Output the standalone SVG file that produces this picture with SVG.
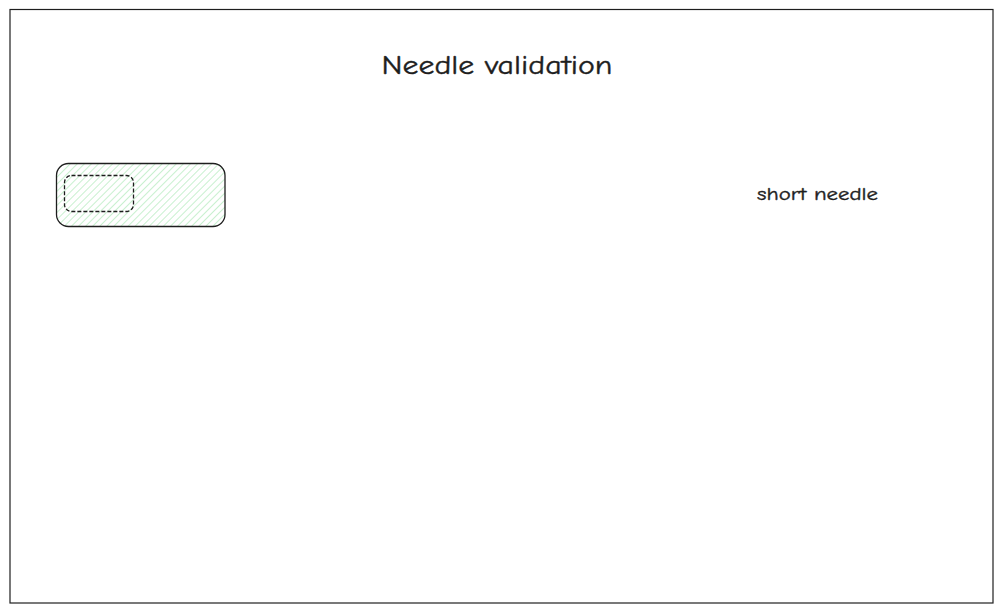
<svg xmlns="http://www.w3.org/2000/svg" width="1004" height="613" viewBox="0 0 1004 613">
<defs>
<pattern id="hatch" patternUnits="userSpaceOnUse" width="5" height="5" patternTransform="rotate(45)">
<line x1="0" y1="0" x2="0" y2="5" stroke="#a3e6ae" stroke-width="1.2"/>
</pattern>
<style>
.t{font-family:"Comic Neue","Liberation Sans",sans-serif;fill:#1e1e1e;stroke:#1e1e1e;stroke-width:0.4;}
.box{fill:url(#hatch);stroke:#1e1e1e;stroke-width:1.3;}
.inner{fill:none;stroke:#1e1e1e;stroke-width:1.3;stroke-dasharray:4 2;}
</style>
</defs>
<rect width="1004" height="613" fill="#ffffff"/>
<g id="frame"><rect x="10" y="9.5" width="983" height="593.5" fill="none" stroke="#1e1e1e" stroke-width="1.2"/></g>
<g id="title"><text class="t" x="497" y="74" font-size="27" text-anchor="middle" textLength="231" lengthAdjust="spacingAndGlyphs">Needle validation</text></g>
<g id="needle-box">
<rect class="box" x="56.5" y="163.5" width="168.5" height="63" rx="12"/>
<rect class="inner" x="64.5" y="175.5" width="69" height="36" rx="7"/>
</g>
<g id="label"><text class="t" x="817.5" y="200" font-size="19" text-anchor="middle" textLength="121" lengthAdjust="spacingAndGlyphs">short needle</text></g>
<g id="connectors"></g>
</svg>
